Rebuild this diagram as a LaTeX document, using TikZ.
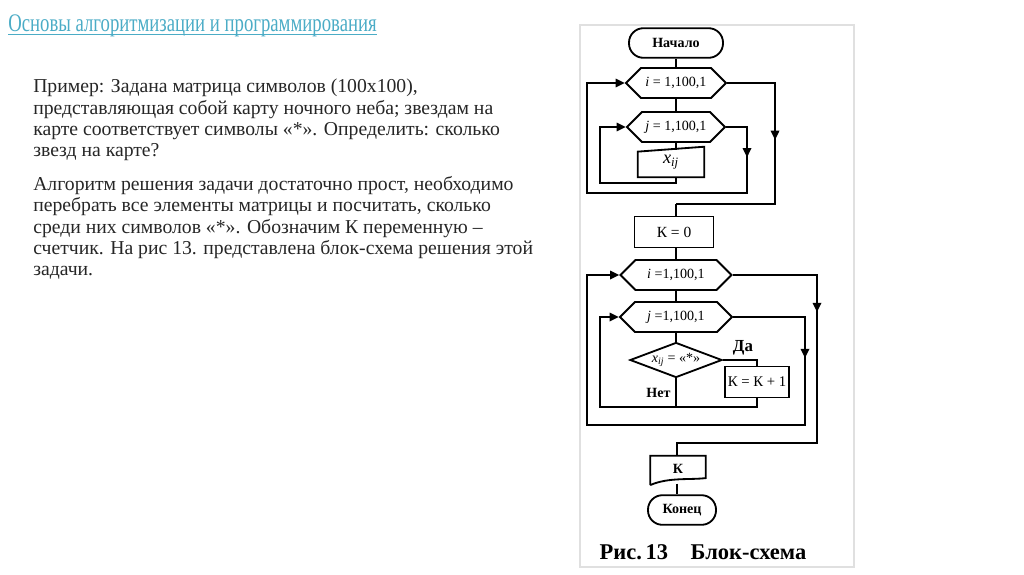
\documentclass[tikz,border=0pt]{standalone}
\usepackage{fontspec}
\setmainfont{Liberation Serif}
\usetikzlibrary{arrows.meta,shapes.geometric,shapes.symbols,decorations.markings}
\definecolor{headteal}{RGB}{75,172,198}
\definecolor{bodytext}{RGB}{38,38,38}

\begin{document}
\begin{tikzpicture}[x=0.025cm,y=-0.025cm,
  every node/.style={font=\fontsize{10}{11}\selectfont},
  term/.style={draw,line width=1.3pt,rounded corners=0.36cm,minimum width=#1,minimum height=0.74cm,inner sep=0pt},
  loopbox/.style={draw,line width=1.3pt,signal,signal to=east and west,signal pointer angle=90,minimum width=#1,minimum height=0.75cm,inner sep=0pt},
  procbox/.style={draw,line width=1.3pt,rectangle,minimum width=#1,minimum height=0.775cm,inner sep=0pt},
  ifbox/.style={draw,line width=1.3pt,diamond,aspect=2.6,minimum width=2.3cm,minimum height=0.875cm,inner sep=0pt},
  flow/.style={line width=1.3pt},
  tip/.style={flow,-{Triangle[length=6.5pt,width=6pt]}},
  arr/.style={flow,postaction={decorate},decoration={markings,mark=at position #1 with {\arrow{Triangle[length=6.5pt,width=6pt]}}}}]
  \useasboundingbox (0,0) rectangle (1024,574);
  \node[anchor=base west,inner sep=0pt,text=headteal,font=\fontsize{18}{18}\selectfont] (hd) at (8,31.5)
    {\scalebox{0.74}[1]{Основы алгоритмизации и программирования}};
  \draw[headteal,line width=0.7pt] ([yshift=-1.8pt]hd.base west) -- ([yshift=-1.8pt]hd.base east);
  \node[anchor=north west,align=left,inner sep=0pt,text=bodytext,font=\fontsize{14}{15.1}\selectfont] (task) at (33,79)
    {Пример: Задана матрица символов (100x100),\\
     представляющая собой карту ночного неба; звездам на\\
     карте соответствует символы «*». Определить: сколько\\
     звезд на карте?\\[9pt]
     Алгоритм решения задачи достаточно прост, необходимо\\
     перебрать все элементы матрицы и посчитать, сколько\\
     среди них символов «*». Обозначим К переменную –\\
     счетчик. На рис 13. представлена блок-схема решения этой\\
     задачи.};
  \draw[black!12,line width=0.8pt] (580,25) rectangle (854,567);
  % first scheme: input of the matrix
  \node[term=2.35cm,font=\bfseries\fontsize{10}{11}\selectfont] (start) at (676,43) {Начало};
  \node[loopbox=2.5cm] (i1) at (676,83) {\textit{i} = 1,100,1};
  \node[loopbox=2.45cm] (j1) at (676,127) {\textit{j} = 1,100,1};
  \node[minimum width=1.65cm,minimum height=0.75cm,inner sep=0pt,font=\fontsize{13}{13}\selectfont] (xin) at (671,162)
    {\textit{x}\textsubscript{\textit{ij}}};
  \draw[flow] (xin.south west) -- (xin.south east) -- (xin.north east) -- ([yshift=-3.5pt]xin.north west) -- cycle;
  \coordinate (c1) at (676,183);
  \coordinate (c2) at (600,183);
  \coordinate (c3) at (747,193);
  \coordinate (c4) at (587,193);
  \coordinate (c5) at (775,204);
  \coordinate (c6) at (676,204);
  \draw[flow] (start.south) -- (i1.north);
  \draw[flow] (i1.south) -- (j1.north);
  \draw[flow] (j1.south) -- (j1.south |- 0,150);
  \draw[tip] (xin.south -| c1) -- (c1) -- (c2) |- (j1.west);
  \draw[tip] (j1.east) -| (c3) -- (c4) |- (i1.west);
  \draw[arr=.46] (j1.east -| c3) -- (c3);
  \draw[flow] (i1.east) -| (c5) -- (c6);
  \draw[arr=.47] (i1.east -| c5) -- (c5);
  % second scheme: counting
  \node[procbox=1.975cm,font=\fontsize{11}{11}\selectfont] (k0) at (674,232) {К = 0};
  \node[loopbox=2.775cm] (i2) at (676,275) {\textit{i} =1,100,1};
  \node[loopbox=2.8cm] (j2) at (676,317) {\textit{j} =1,100,1};
  \node[ifbox,font=\fontsize{10}{10}\selectfont] (dec) at (676,360) {\textit{x}\textsubscript{\textit{ij}} = «*»};
  \node[procbox=1.6cm,font=\fontsize{10.5}{11}\selectfont] (inc) at (757,382) {К = К + 1};
  \node[minimum width=1.375cm,minimum height=0.65cm,inner sep=0pt,font=\bfseries\fontsize{10}{11}\selectfont] (out) at (678,469) {К};
  \draw[flow] ([yshift=-2pt]out.south west) -- (out.north west) -- (out.north east) -- ([yshift=3pt]out.south east)
    .. controls +(-0.4cm,-0.05cm) and +(0.45cm,0.2cm) .. ([yshift=-2pt]out.south west);
  \node[term=1.7cm,font=\bfseries\fontsize{10}{11}\selectfont] (stop) at (682,510) {Конец};
  \coordinate (d1) at (805,425);
  \coordinate (d2) at (587,425);
  \coordinate (d3) at (817,443);
  \coordinate (d4) at (677,443);
  \coordinate (e1) at (757,407);
  \coordinate (e2) at (600,407);
  \coordinate (e3) at (676,407);
  \draw[flow] (c6) -- (k0.north -| c6);
  \draw[flow] (k0.south -| i2.north) -- (i2.north);
  \draw[flow] (i2.south) -- (j2.north);
  \draw[flow] (j2.south) -- (dec.north);
  \draw[flow] (dec.east) -| (inc.north);
  \node[font=\bfseries\fontsize{12}{12}\selectfont] (yes) at (743,348) {Да};
  \draw[flow] (dec.south) -- node[pos=.5,left,font=\bfseries\fontsize{10}{11}\selectfont] (no) {Нет} (e3);
  \draw[tip] (inc.south) -- (e1) -- (e2) |- (j2.west);
  \draw[tip] (j2.east) -| (d1) -- (d2) |- (i2.west);
  \draw[arr=.38] (j2.east -| d1) -- (d1);
  \draw[flow] (i2.east) -| (d3) -- (d4) -- (out.north -| d4);
  \draw[arr=.22] (i2.east -| d3) -- (d3);
  \draw[flow] ([yshift=-1pt]out.south -| d4) -- (stop.north -| d4);
  \node[font=\bfseries\fontsize{16}{16}\selectfont] (cap) at (703,552) {Рис.\,13\quad Блок-схема};
\end{tikzpicture}
\end{document}
